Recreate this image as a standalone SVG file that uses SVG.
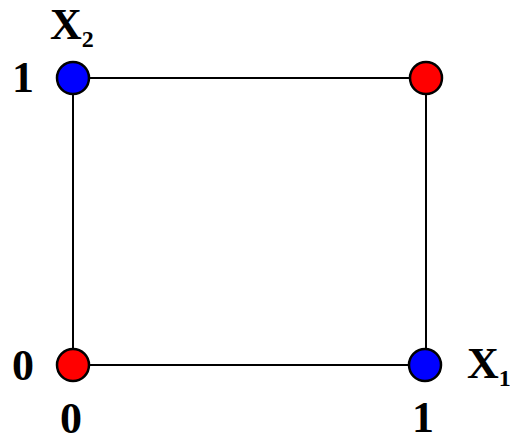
<svg xmlns="http://www.w3.org/2000/svg" width="510" height="436" viewBox="0 0 510 436">
<style>
.lbl{font-family:"Liberation Serif","Times New Roman",serif;font-weight:bold;font-size:44px;fill:#000}
.sub{font-size:24px}
.edge{stroke:#000;stroke-width:2;fill:none}
.node{stroke:#000;stroke-width:2.5}
.red{fill:#ff0000}
.blue{fill:#0000ff}
</style>
<rect width="510" height="436" fill="#fff"/>
<g id="connectors">
<line class="edge" x1="73" y1="78" x2="426" y2="78"/>
<line class="edge" x1="73" y1="78" x2="73" y2="365"/>
<line class="edge" x1="426" y1="78" x2="426" y2="365"/>
<line class="edge" x1="73" y1="365" x2="426" y2="365"/>
</g>
<g id="n01"><circle class="node blue" cx="73" cy="78" r="16"/></g>
<g id="n11"><circle class="node red" cx="426" cy="78" r="16"/></g>
<g id="n00"><circle class="node red" cx="73" cy="365" r="16"/></g>
<g id="n10"><circle class="node blue" cx="425" cy="365" r="16"/></g>
<g id="labels">
<text class="lbl" x="50" y="39">X<tspan class="sub" dy="8">2</tspan></text>
<text class="lbl" x="23" y="92" text-anchor="middle">1</text>
<text class="lbl" x="23" y="380" text-anchor="middle">0</text>
<text class="lbl" x="71" y="433" text-anchor="middle">0</text>
<text class="lbl" x="423" y="432" text-anchor="middle">1</text>
<text class="lbl" x="467" y="378">X<tspan class="sub" dy="8">1</tspan></text>
</g>
</svg>
